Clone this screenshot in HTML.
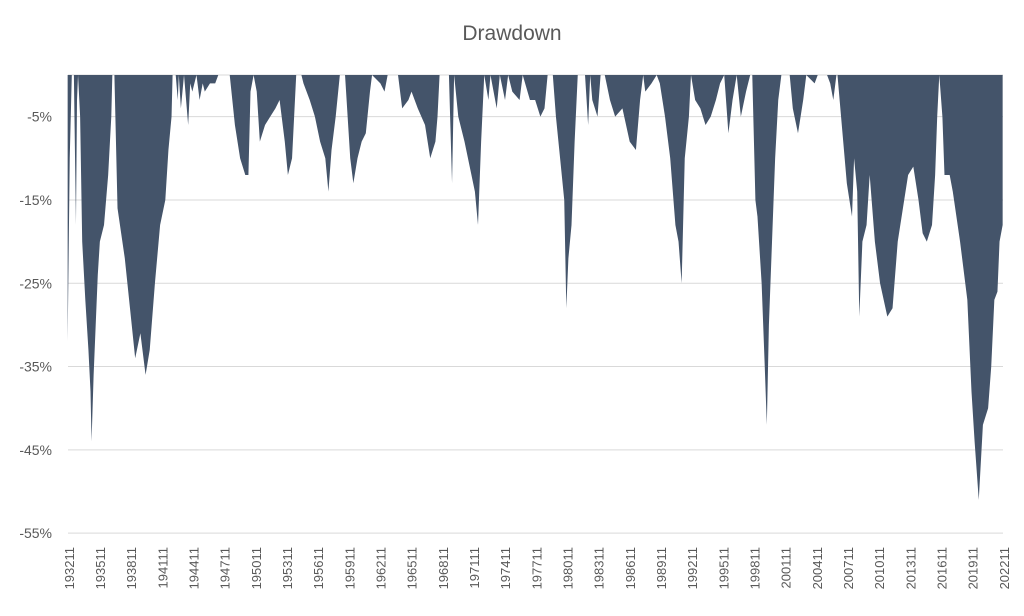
<!DOCTYPE html>
<html><head><meta charset="utf-8"><style>
html,body{margin:0;padding:0;background:#fff;}
svg{display:block;font-family:"Liberation Sans",sans-serif;}
</style></head><body>
<svg id="chart" width="1024" height="616" viewBox="0 0 1024 616">
<text x="512" y="40" text-anchor="middle" font-size="21" fill="#595959">Drawdown</text>
<g id="grid"></g>
<g id="area"></g>
<g id="yaxis"></g>
<g id="xaxis"></g>
</svg>
<script>
const dates = [1932.8,1933.0,1933.2,1933.4,1933.6,1933.7,1933.8,1934.0,1934.2,1934.5,1934.8,1935.0,1935.1,1935.3,1935.5,1935.7,1935.9,1936.3,1936.7,1937.0,1937.1,1937.3,1937.6,1938.3,1938.8,1939.3,1939.8,1940.3,1940.7,1941.2,1941.7,1942.2,1942.5,1942.8,1942.9,1943.2,1943.4,1943.5,1943.7,1944.0,1944.4,1944.6,1944.8,1945.2,1945.5,1945.8,1946.0,1946.5,1947.0,1947.3,1948.4,1948.9,1949.4,1949.9,1950.2,1950.4,1950.7,1951.0,1951.3,1951.8,1952.3,1952.8,1953.2,1953.7,1954.0,1954.4,1954.8,1955.3,1955.5,1956.1,1956.6,1957.1,1957.6,1957.9,1958.2,1958.6,1959.0,1959.5,1960.0,1960.3,1960.7,1961.1,1961.5,1961.9,1962.1,1962.9,1963.3,1963.6,1964.6,1965.0,1965.6,1965.9,1966.5,1967.2,1967.7,1968.2,1968.4,1968.6,1969.5,1969.8,1970.0,1970.4,1971.0,1971.5,1972.0,1972.3,1972.6,1972.9,1973.3,1973.5,1974.1,1974.4,1974.9,1975.2,1975.6,1976.3,1976.6,1977.3,1977.8,1978.3,1978.7,1979.0,1979.5,1979.8,1980.2,1980.6,1980.8,1981.0,1981.3,1981.6,1981.9,1982.6,1982.9,1983.1,1983.3,1983.8,1984.1,1984.5,1985.0,1985.5,1986.2,1986.9,1987.5,1987.9,1988.2,1988.4,1989.0,1989.5,1989.8,1990.3,1990.8,1991.3,1991.6,1991.9,1992.2,1992.6,1992.8,1993.2,1993.7,1994.2,1994.7,1995.2,1995.6,1996.0,1996.4,1996.8,1997.2,1997.6,1998.1,1998.5,1998.7,1999.0,1999.2,1999.6,1999.9,2000.1,2000.3,2000.6,2000.9,2001.2,2001.5,2002.3,2002.6,2003.1,2003.6,2003.9,2004.7,2005.0,2005.9,2006.2,2006.5,2006.8,2006.9,2007.8,2008.3,2008.5,2008.8,2009.0,2009.3,2009.7,2010.0,2010.5,2011.0,2011.7,2012.2,2012.7,2013.2,2013.7,2014.2,2014.7,2015.1,2015.5,2016.0,2016.3,2016.5,2016.7,2017.0,2017.2,2017.7,2018.0,2018.7,2019.4,2019.8,2020.1,2020.5,2020.9,2021.4,2021.7,2022.0,2022.3,2022.5,2022.8];
const drawdown = [-32,-10,0,0,-18,-3,0,-5,-20,-27,-33,-38,-44,-36,-30,-24,-20,-18,-12,-5,0,0,-16,-22,-28,-34,-31,-36,-33,-25,-18,-15,-9,-5,0,0,-3,0,-4,0,-6,-1,-2,0,-3,-1,-2,-1,-1,0,0,-6,-10,-12,-12,-2,0,-2,-8,-6,-5,-4,-3,-8,-12,-10,0,0,-1,-3,-5,-8,-10,-14,-9,-5,0,0,-10,-13,-10,-8,-7,-2,0,-1,-2,0,0,-4,-3,-2,-4,-6,-10,-8,-5,0,0,-13,0,-5,-8,-11,-14,-18,-8,0,-3,0,-4,0,-3,0,-2,-3,0,-3,-3,-5,-4,0,0,-5,-10,-15,-28,-22,-18,-8,0,0,-6,0,-3,-5,0,0,-3,-5,-4,-8,-9,-3,0,-2,-1,0,-1,-5,-10,-18,-20,-25,-10,-5,0,-3,-4,-6,-5,-3,-1,0,-7,-3,0,-5,-2,0,0,-15,-17,-25,-35,-42,-30,-20,-10,-3,0,0,-4,-7,-3,0,-1,0,0,-1,-3,0,0,-13,-17,-10,-14,-29,-20,-18,-12,-20,-25,-29,-28,-20,-16,-12,-11,-15,-19,-20,-18,-12,-5,0,-5,-12,-12,-14,-20,-27,-38,-44,-51,-42,-40,-35,-27,-26,-20,-18];
const yTicks = [-5,-15,-25,-35,-45,-55];
const xTickLabels = ["193211","193511","193811","194111","194411","194711","195011","195311","195611","195911","196211","196511","196811","197111","197411","197711","198011","198311","198611","198911","199211","199511","199811","200111","200411","200711","201011","201311","201611","201911","202211"];

const NS = "http://www.w3.org/2000/svg";
const X0 = 68, X1 = 1003, Y0 = 75, PXPCT = 8.33;
const T0 = 1932 + 10/12, T1 = 2022 + 10/12;
function xs(t){ return X0 + (t - T0) / (T1 - T0) * (X1 - X0); }
function ys(v){ return Y0 - v * PXPCT; }
function mk(tag, attrs, parent){ const e = document.createElementNS(NS, tag); for (const k in attrs) e.setAttribute(k, attrs[k]); parent.appendChild(e); return e; }

const grid = document.getElementById('grid');
const l0 = mk('line', {x1:X0, x2:X1, y1:ys(0), y2:ys(0), stroke:'#d9d9d9', 'stroke-width':1}, grid);


const yaxis = document.getElementById('yaxis');
yTicks.forEach(v => {
  const l = mk('line', {x1:X0, x2:X1, y1:ys(v), y2:ys(v), stroke:'#d9d9d9', 'stroke-width':1}, grid);
  
  
  const t = mk('text', {x:52, y:ys(v)+5, 'text-anchor':'end', 'font-size':14, fill:'#595959'}, yaxis);
  t.textContent = v + '%';
  
  
});

const area = document.getElementById('area');
let d = 'M' + xs(dates[0]).toFixed(2) + ',' + ys(0);
for (let i = 0; i < dates.length; i++) d += ' L' + xs(dates[i]).toFixed(2) + ',' + ys(drawdown[i]).toFixed(2);
d += ' L' + xs(dates[dates.length-1]).toFixed(2) + ',' + ys(0) + ' Z';
const p = mk('path', {d:d, fill:'#44546a'}, area);



const xaxis = document.getElementById('xaxis');
xTickLabels.forEach(s => {
  const t = T0 + (parseInt(s.slice(0,4)) + (parseInt(s.slice(4))) / 12 - T0 - 0);
  const yr = parseInt(s.slice(0,4)) + parseInt(s.slice(4)) / 12;
  const x = xs(yr);
  const tx = mk('text', {x:0, y:0, 'text-anchor':'end', 'font-size':13, fill:'#595959', transform:'translate(' + (x+5).toFixed(1) + ',547) rotate(-90)'}, xaxis);
  tx.textContent = s;
  
  
});
</script>
</body></html>
